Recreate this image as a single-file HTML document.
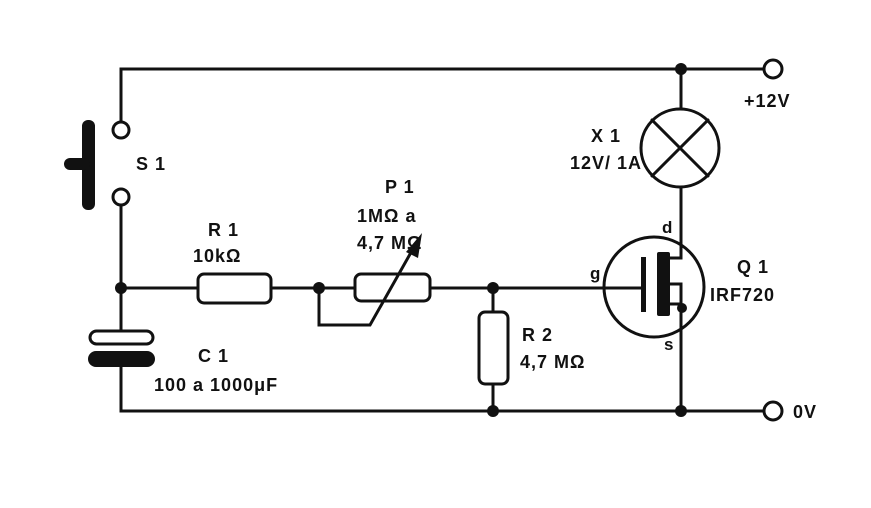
<!DOCTYPE html>
<html><head><style>
body{margin:0;background:#fff}
svg text{font-family:"Liberation Sans",sans-serif;font-weight:bold;fill:#111;letter-spacing:1px}
</style></head><body>
<svg width="871" height="503" viewBox="0 0 871 503" xmlns="http://www.w3.org/2000/svg">
<g stroke="#111" stroke-width="3" fill="none" stroke-linecap="round">
<path d="M121 122 V69 H764"/>
<path d="M121 205 V331"/>
<path d="M121 367 V411 H764"/>
<circle cx="121" cy="130" r="8"/>
<circle cx="121" cy="197" r="8"/>
<circle cx="773" cy="69" r="9"/>
<circle cx="773" cy="411" r="9"/>
<path d="M121 288 H198 M271 288 H355 M430 288 H640"/>
<rect x="198" y="274" width="73" height="29" rx="6"/>
<rect x="355" y="274" width="75" height="27" rx="6"/>
<path d="M319 288 V325 H370 L418 240"/>
<path d="M493 288 V312 M493 384 V411"/>
<rect x="479" y="312" width="29" height="72" rx="6"/>
<rect x="90" y="331" width="63" height="13" rx="6.5"/>
<path d="M681 69 V109 M681 187 V258 H668 M668 304 H681 V411"/>
<circle cx="680" cy="148" r="39"/>
<path d="M652 120 L708 176 M708 120 L652 176"/>
<circle cx="654" cy="287" r="50"/>
<path d="M583 288 H643"/>
</g>
<g fill="#111">
<rect x="82" y="120" width="13" height="90" rx="6"/>
<rect x="64" y="158" width="26" height="12" rx="6"/>
<rect x="88" y="351" width="67" height="16" rx="8"/>
<rect x="641" y="257" width="5" height="55"/>
<rect x="657" y="252" width="13" height="64" rx="2"/>
<circle cx="121" cy="288" r="6"/>
<circle cx="319" cy="288" r="6"/>
<circle cx="493" cy="288" r="6"/>
<circle cx="493" cy="411" r="6"/>
<circle cx="681" cy="69" r="6"/>
<circle cx="681" cy="411" r="6"/>
<circle cx="682" cy="308" r="5"/>
<polygon points="422,233 406,252 418,258"/>
</g>
<path d="M670 284 H681 V305" stroke="#111" stroke-width="3" fill="none"/>
<text x="136" y="170" font-size="18">S 1</text>
<text x="208" y="236" font-size="18">R 1</text>
<text x="193" y="262" font-size="18">10kΩ</text>
<text x="385" y="193" font-size="18">P 1</text>
<text x="357" y="222" font-size="18">1MΩ  a</text>
<text x="357" y="249" font-size="18">4,7 MΩ</text>
<text x="591" y="142" font-size="18">X 1</text>
<text x="570" y="169" font-size="18">12V/ 1A</text>
<text x="744" y="107" font-size="18">+12V</text>
<text x="662" y="233" font-size="17">d</text>
<text x="590" y="279" font-size="17">g</text>
<text x="664" y="350" font-size="17">s</text>
<text x="737" y="273" font-size="18">Q 1</text>
<text x="710" y="301" font-size="18">IRF720</text>
<text x="522" y="341" font-size="18">R 2</text>
<text x="520" y="368" font-size="18">4,7 MΩ</text>
<text x="198" y="362" font-size="18">C 1</text>
<text x="154" y="391" font-size="18">100  a  1000μF</text>
<text x="793" y="418" font-size="18">0V</text>
</svg>
</body></html>
